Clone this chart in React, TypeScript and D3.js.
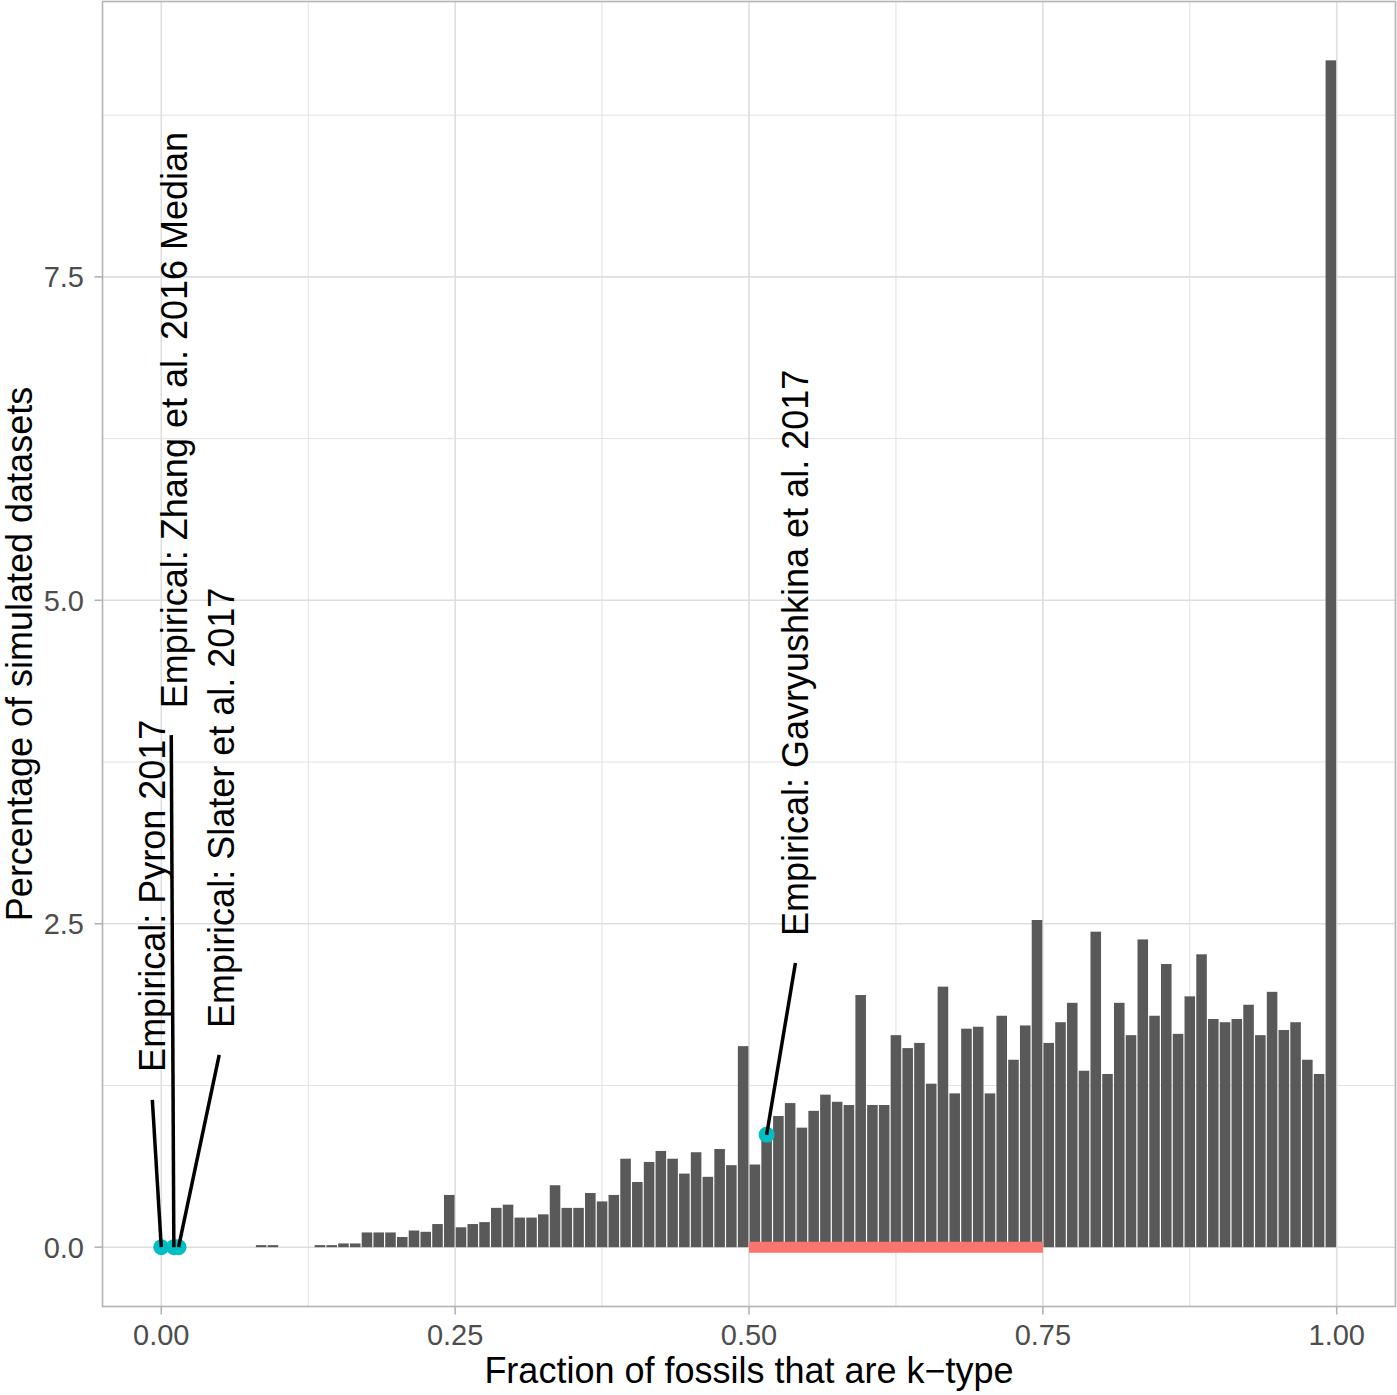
import React from "react";
import * as d3 from "d3";

// Histogram: 100 bins of width 0.01 on [0, 1]; percentage of simulated datasets per bin
const binWidth = 0.01;
const binValues: number[] = [
  0, 0, 0, 0, 0, 0, 0, 0, 0.012, 0.012,
  0, 0, 0, 0.012, 0.012, 0.025, 0.025, 0.11, 0.11, 0.11,
  0.075, 0.125, 0.115, 0.175, 0.40, 0.15, 0.175, 0.19, 0.30, 0.325,
  0.225, 0.225, 0.25, 0.475, 0.30, 0.30, 0.415, 0.35, 0.40, 0.68,
  0.50, 0.655, 0.74, 0.68, 0.565, 0.73, 0.54, 0.755, 0.63, 1.55,
  0.635, 0.87, 1.01, 1.11, 0.92, 1.05, 1.175, 1.12, 1.095, 1.945,
  1.095, 1.095, 1.635, 1.535, 1.575, 1.26, 2.01, 1.185, 1.685, 1.70,
  1.185, 1.785, 1.445, 1.71, 2.525, 1.575, 1.735, 1.885, 1.36, 2.435,
  1.335, 1.885, 1.635, 2.375, 1.785, 2.185, 1.645, 1.935, 2.26, 1.76,
  1.735, 1.76, 1.87, 1.635, 1.97, 1.675, 1.735, 1.445, 1.335, 9.17,
];

// Empirical datasets (points)
const empNames: string[] = [
  "Empirical: Pyron 2017",
  "Empirical: Zhang et al. 2016 Median",
  "Empirical: Slater et al. 2017",
  "Empirical: Gavryushkina et al. 2017",
];
const empX: number[] = [0, 0.0107, 0.0147, 0.515];
const empY: number[] = [0, 0, 0, 0.869];
// repelled label anchors (data units): baseline x, text start y
const labelX: number[] = [0.0035, 0.0215, 0.0615, 0.55];
const labelY: number[] = [1.355, 4.166, 1.695, 2.405];
// segment ends near the labels (data units)
const segX: number[] = [-0.0076, 0.0085, 0.0493, 0.5395];
const segY: number[] = [1.139, 3.958, 1.486, 2.197];

// Highlighted range
const rangeStart = 0.5;
const rangeEnd = 0.75;

const xTicks: number[] = [0, 0.25, 0.5, 0.75, 1.0];
const xTickLabels: string[] = ["0.00", "0.25", "0.50", "0.75", "1.00"];
const xMinor: number[] = [0.125, 0.375, 0.625, 0.875];
const yTicks: number[] = [0, 2.5, 5.0, 7.5];
const yTickLabels: string[] = ["0.0", "2.5", "5.0", "7.5"];
const yMinor: number[] = [1.25, 3.75, 6.25, 8.75];

const xTitle = "Fraction of fossils that are k\u2212type";
const yTitle = "Percentage of simulated datasets";

const W = 1397;
const H = 1395;
const panel = { left: 102.5, right: 1395.5, top: 1.5, bottom: 1306.5 };
const FONT = "'Liberation Sans', Arial, Helvetica, sans-serif";

export default function App() {
  const yMax = d3.max(binValues) as number;
  const yPad = yMax * 0.05;
  const x = d3.scaleLinear().domain([-0.05, 1.05]).range([panel.left, panel.right]);
  const y = d3.scaleLinear().domain([-yPad, yMax + yPad]).range([panel.bottom, panel.top]);

  const bars = binValues
    .map((v, i) => ({ x0: i * binWidth, x1: (i + 1) * binWidth, v }))
    .filter((b) => b.v > 0);

  const gridColor = "#DEDEDE";
  const borderColor = "#B3B3B3";
  const gap = 0.6;

  return (
    <svg
      width={W}
      height={H}
      style={{ position: "absolute", left: 0, top: 0, display: "block", background: "#fff" }}
      fontFamily={FONT}
    >
      <rect x={0} y={0} width={W} height={H} fill="#fff" />
      {/* minor grid */}
      {xMinor.map((t) => (
        <line key={"xm" + t} x1={x(t)} x2={x(t)} y1={panel.top} y2={panel.bottom} stroke={gridColor} strokeWidth={0.9} />
      ))}
      {yMinor.map((t) => (
        <line key={"ym" + t} x1={panel.left} x2={panel.right} y1={y(t)} y2={y(t)} stroke={gridColor} strokeWidth={0.9} />
      ))}
      {/* major grid */}
      {xTicks.map((t) => (
        <line key={"xg" + t} x1={x(t)} x2={x(t)} y1={panel.top} y2={panel.bottom} stroke={gridColor} strokeWidth={1.6} />
      ))}
      {yTicks.map((t) => (
        <line key={"yg" + t} x1={panel.left} x2={panel.right} y1={y(t)} y2={y(t)} stroke={gridColor} strokeWidth={1.6} />
      ))}

      {/* bars */}
      {bars.map((b, i) => (
        <rect
          key={"b" + i}
          x={x(b.x0) + gap}
          y={y(b.v) - 0.5}
          width={x(b.x1) - x(b.x0) - 2 * gap}
          height={y(0) - y(b.v) + 0.5}
          fill="#595959"
        />
      ))}

      {/* highlighted range */}
      <line x1={x(rangeStart)} x2={x(rangeEnd)} y1={y(0)} y2={y(0)} stroke="#F8766D" strokeWidth={11} />

      {/* points */}
      {empX.map((px, i) => (
        <circle key={"p" + i} cx={x(px)} cy={y(empY[i])} r={8} fill="#00BFC4" />
      ))}

      {/* repel segments */}
      {empX.map((px, i) => (
        <line
          key={"s" + i}
          x1={x(segX[i])}
          y1={y(segY[i])}
          x2={x(px)}
          y2={y(empY[i])}
          stroke="#000"
          strokeWidth={3.5}
        />
      ))}

      {/* labels */}
      {empNames.map((n, i) => (
        <text
          key={"l" + i}
          transform={`translate(${x(labelX[i])},${y(labelY[i])}) rotate(-90)`}
          fontSize={36}
          fill="#000"
          textAnchor="start"
        >
          {n}
        </text>
      ))}

      {/* panel border */}
      <rect
        x={panel.left}
        y={panel.top}
        width={panel.right - panel.left}
        height={panel.bottom - panel.top}
        fill="none"
        stroke={borderColor}
        strokeWidth={1.6}
      />

      {/* x axis ticks */}
      {xTicks.map((t, i) => (
        <g key={"xt" + t}>
          <line x1={x(t)} x2={x(t)} y1={panel.bottom} y2={panel.bottom + 8} stroke={borderColor} strokeWidth={1.6} />
          <text x={x(t)} y={1345} fontSize={29} fill="#4D4D4D" textAnchor="middle">
            {xTickLabels[i]}
          </text>
        </g>
      ))}
      {/* y axis ticks */}
      {yTicks.map((t, i) => (
        <g key={"yt" + t}>
          <line x1={panel.left - 8} x2={panel.left} y1={y(t)} y2={y(t)} stroke={borderColor} strokeWidth={1.6} />
          <text x={84} y={y(t)} dy="0.36em" fontSize={29} fill="#4D4D4D" textAnchor="end">
            {yTickLabels[i]}
          </text>
        </g>
      ))}

      {/* axis titles */}
      <text x={(panel.left + panel.right) / 2} y={1383} fontSize={36} fill="#000" textAnchor="middle">
        {xTitle}
      </text>
      <text
        transform={`translate(32,${(panel.top + panel.bottom) / 2}) rotate(-90)`}
        fontSize={36}
        fill="#000"
        textAnchor="middle"
      >
        {yTitle}
      </text>
    </svg>
  );
}
